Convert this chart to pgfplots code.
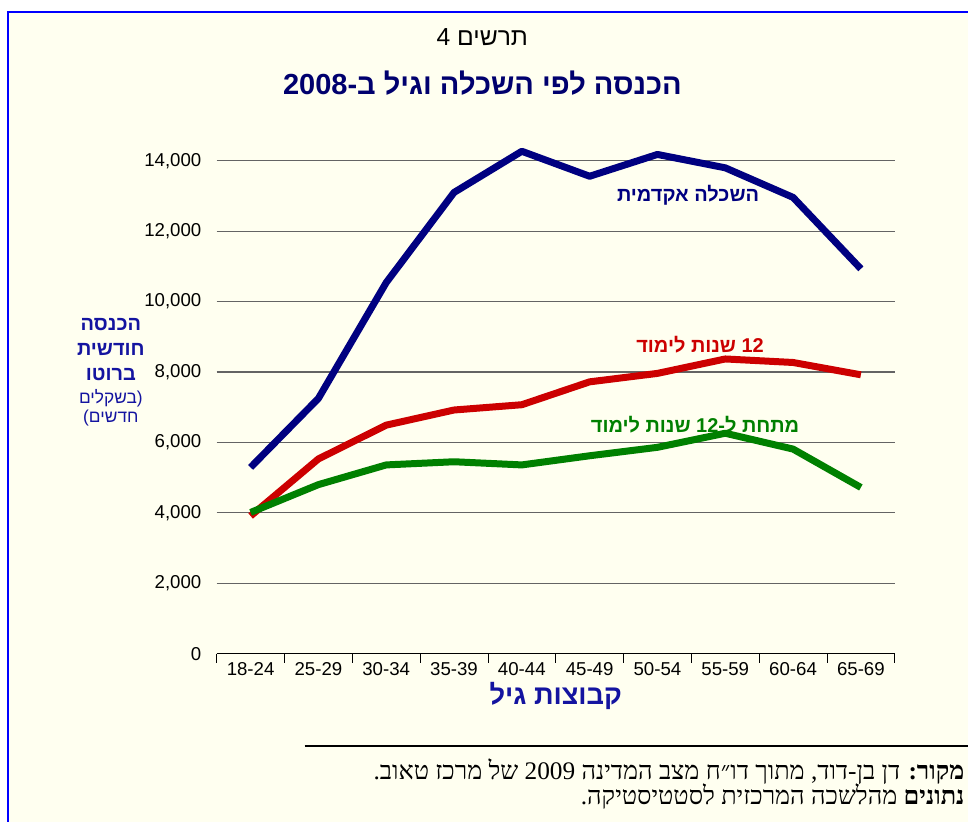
\documentclass[border=0pt]{standalone}
\usepackage{fontspec}
\setmainfont{Liberation Sans}
\newfontfamily\heb[Script=Hebrew]{Liberation Sans}
\newfontfamily\hebs[Script=Hebrew]{Liberation Serif}
\usepackage{pgfplots}
\pgfplotsset{compat=1.18}
\TeXXeTstate=1
\definecolor{bg}{RGB}{255,255,240}
\definecolor{navyt}{RGB}{0,0,110}
\definecolor{lblue}{RGB}{20,20,160}
\definecolor{sblue}{RGB}{0,0,128}
\definecolor{sred}{RGB}{204,0,0}
\definecolor{sgreen}{RGB}{0,128,0}
\definecolor{bord}{RGB}{0,0,255}
\definecolor{gridc}{RGB}{100,100,100}

\pgfplotstableread{
x blue red green
0 5290 3910 4010
1 7250 5530 4800
2 10540 6490 5360
3 13100 6920 5450
4 14270 7070 5360
5 13560 7720 5620
6 14180 7960 5860
7 13800 8370 6260
8 12960 8270 5810
9 10930 7920 4720
}\datatable

\begin{document}
\begin{tikzpicture}
% pixel (x,y) -> (0.75x pt, 0.75(823-y) pt)
\fill[white] (0,0) rectangle (726.75pt,617.25pt);
\fill[bg] (6pt,0) rectangle (726.75pt,608.25pt);
\draw[bord, line width=2pt] (6pt,0) -- (6pt,608.25pt) -- (726.75pt,608.25pt);
\draw[black, line width=1.5pt] (228.75pt,57pt) -- (726.75pt,57pt);

\begin{axis}[
  at={(162.75pt,126.375pt)}, anchor=south west,
  scale only axis, width=509.25pt, height=396.56pt,
  xmin=-0.5, xmax=9.5, ymin=0, ymax=15000,
  axis x line*=bottom, axis y line*=left,
  y axis line style={draw=none},
  x axis line style={black, line width=0.8pt, -},
  xtick={0,...,9},
  xticklabels={18-24,25-29,30-34,35-39,40-44,45-49,50-54,55-59,60-64,65-69},
  major x tick style={draw=none},
  minor xtick={-0.5,0.5,...,9.5},
  minor x tick style={black, line width=0.6pt},
  minor tick length=7pt,
  major tick length=3pt,
  tick align=outside,
  ytick={0,2000,...,14000},
  ymajorgrids,
  major y grid style={gridc, line width=0.9pt},
  ytick style={draw=none},
  scaled y ticks=false,
  yticklabel style={font=\fontsize{14}{14}\selectfont, xshift=-5pt},
  xticklabel style={font=\fontsize{14}{14}\selectfont},
  /pgf/number format/.cd, 1000 sep={,}, assume math mode=true,
]
\addplot[sblue, line width=5.25pt, line join=round] table[x=x, y=blue] {\datatable};
\addplot[sred, line width=5.25pt, line join=round] table[x=x, y=red] {\datatable};
\addplot[sgreen, line width=5.25pt, line join=round] table[x=x, y=green] {\datatable};
\end{axis}

% titles
\node[font=\fontsize{18.5}{18.5}\selectfont\heb] at (362.25pt,589.5pt) {\beginR תרשים 4\endR};
\node[font=\fontsize{21.8}{21.8}\selectfont\heb\bfseries, text=navyt] at (362.25pt,555pt) {\beginR הכנסה לפי השכלה וגיל ב-2008\endR};

% x label
\node[font=\fontsize{20.5}{20.5}\selectfont\heb\bfseries, text=lblue] at (417.4pt,94.5pt) {\beginR קבוצות גיל\endR};

% y label
\node[font=\fontsize{15}{15}\selectfont\heb\bfseries, text=lblue] at (83.25pt,373.5pt) {\beginR הכנסה\endR};
\node[font=\fontsize{15}{15}\selectfont\heb\bfseries, text=lblue] at (83.25pt,355pt) {\beginR חודשית\endR};
\node[font=\fontsize{15}{15}\selectfont\heb\bfseries, text=lblue] at (83.25pt,336pt) {\beginR ברוטו\endR};
\node[font=\fontsize{13}{13}\selectfont\heb, text=lblue] at (83.25pt,318pt) {\beginR בשקלים\endR(};
\node[font=\fontsize{13}{13}\selectfont\heb, text=lblue] at (83.25pt,303pt) {)\beginR חדשים\endR};

% series labels
\node[font=\fontsize{15}{15}\selectfont\heb\bfseries, text=sblue] at (516.75pt,470.25pt) {\beginR השכלה אקדמית\endR};
\node[font=\fontsize{15}{15}\selectfont\heb\bfseries, text=sred] at (525.75pt,358.5pt) {\beginR 12 שנות לימוד\endR};
\node[font=\fontsize{15}{15}\selectfont\heb\bfseries, text=sgreen] at (522pt,298.5pt) {\beginR מתחת ל-12 שנות לימוד\endR};

% source
\node[anchor=east, inner sep=0pt, font=\fontsize{19}{19}\selectfont\hebs] at (724.5pt,37.5pt) {\beginR\textbf{מקור:} דן בן-דוד, מתוך דו״ח מצב המדינה 2009 של מרכז טאוב.\endR};
\node[anchor=east, inner sep=0pt, font=\fontsize{19}{19}\selectfont\hebs] at (724.5pt,18.75pt) {\beginR\textbf{נתונים} מהלשכה המרכזית לסטטיסטיקה.\endR};
\end{tikzpicture}
\end{document}
